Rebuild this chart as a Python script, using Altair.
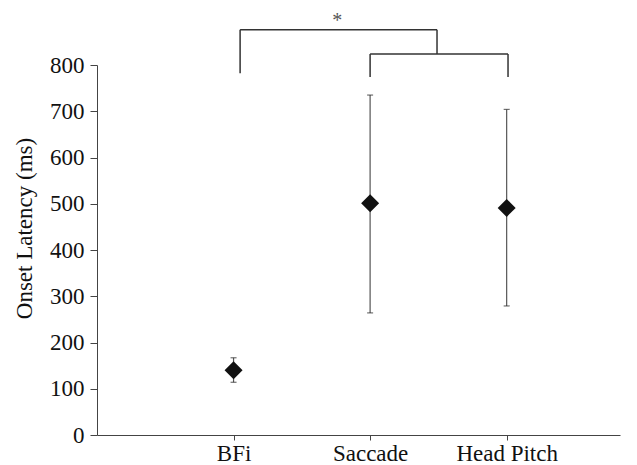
import altair as alt
import pandas as pd

# Data
categories = ["BFi", "Saccade", "Head Pitch"]
positions = [1, 2, 3]
means = [140, 501, 491]
lower = [114, 264, 279]
upper = [167, 735, 704]

# significance brackets (annotation segments: x, y, x2, y2 in data units)
br_x = [1.048, 1.048, 2.49, 2.0, 2.0, 3.01]
br_y = [782, 876, 876, 774, 824, 824]
br_x2 = [1.048, 2.49, 2.49, 2.0, 3.01, 3.01]
br_y2 = [876, 876, 824, 824, 824, 774]
star_x = [1.76]
star_y = [903]
star_text = ["*"]

df = pd.DataFrame({"cat": categories, "pos": positions, "mean": means,
                   "lo": lower, "hi": upper})
br = pd.DataFrame({"x": br_x, "y": br_y, "x2": br_x2, "y2": br_y2})
st = pd.DataFrame({"x": star_x, "y": star_y, "t": star_text})

FONT = "'Liberation Serif', 'Times New Roman', Times, serif"

label_expr = "datum.value == 1 ? 'BFi' : datum.value == 2 ? 'Saccade' : datum.value == 3 ? 'Head Pitch' : ''"

xs = alt.Scale(domain=[0, 3.83], nice=False, zero=False)
ys = alt.Scale(domain=[0, 800], nice=False)

x_axis = alt.Axis(values=positions, labelExpr=label_expr, title=None, grid=False,
                  tickSize=5, labelPadding=2, labelFontSize=23, labelFont=FONT,
                  labelColor="#111", domainColor="#444", tickColor="#444")
y_axis = alt.Axis(values=list(range(0, 801, 100)), title="Onset Latency (ms)",
                  grid=False, tickSize=7, labelPadding=6, labelFontSize=23,
                  labelFont=FONT, labelColor="#111", titleFont=FONT,
                  titleFontSize=23, titleFontWeight="normal", titleColor="#111",
                  titlePadding=13, titleY=163, domainColor="#444", tickColor="#444")

base = alt.Chart(df)

rules = base.mark_rule(color="#555", strokeWidth=1.2).encode(
    x=alt.X("pos:Q", scale=xs, axis=x_axis),
    y=alt.Y("lo:Q", scale=ys, axis=y_axis),
    y2="hi:Q",
)
caps_hi = base.mark_tick(color="#333", thickness=1.2, size=6, orient="horizontal").encode(
    x=alt.X("pos:Q", scale=xs), y=alt.Y("hi:Q", scale=ys))
caps_lo = base.mark_tick(color="#333", thickness=1.2, size=6, orient="horizontal").encode(
    x=alt.X("pos:Q", scale=xs), y=alt.Y("lo:Q", scale=ys))
points = base.mark_point(shape="diamond", filled=True, size=324, color="#111",
                         opacity=1).encode(
    x=alt.X("pos:Q", scale=xs), y=alt.Y("mean:Q", scale=ys))

brackets = alt.Chart(br).mark_rule(color="#333", strokeWidth=1.5).encode(
    x=alt.X("x:Q", scale=xs), y=alt.Y("y:Q", scale=ys),
    x2="x2:Q", y2="y2:Q")

star = alt.Chart(st).mark_text(font=FONT, fontSize=20, color="#555",
                               baseline="middle", dy=4).encode(
    x=alt.X("x:Q", scale=xs), y=alt.Y("y:Q", scale=ys), text="t:N")

chart = alt.layer(rules, caps_hi, caps_lo, points, brackets, star).properties(
    width=523, height=370,
    autosize=alt.AutoSizeParams(type="none"),
    padding={"left": 89, "top": 57, "right": 9, "bottom": 28},
    background="white",
).configure_view(stroke=None)

chart.save("out.html", embed_options={"renderer": "svg", "actions": False})
